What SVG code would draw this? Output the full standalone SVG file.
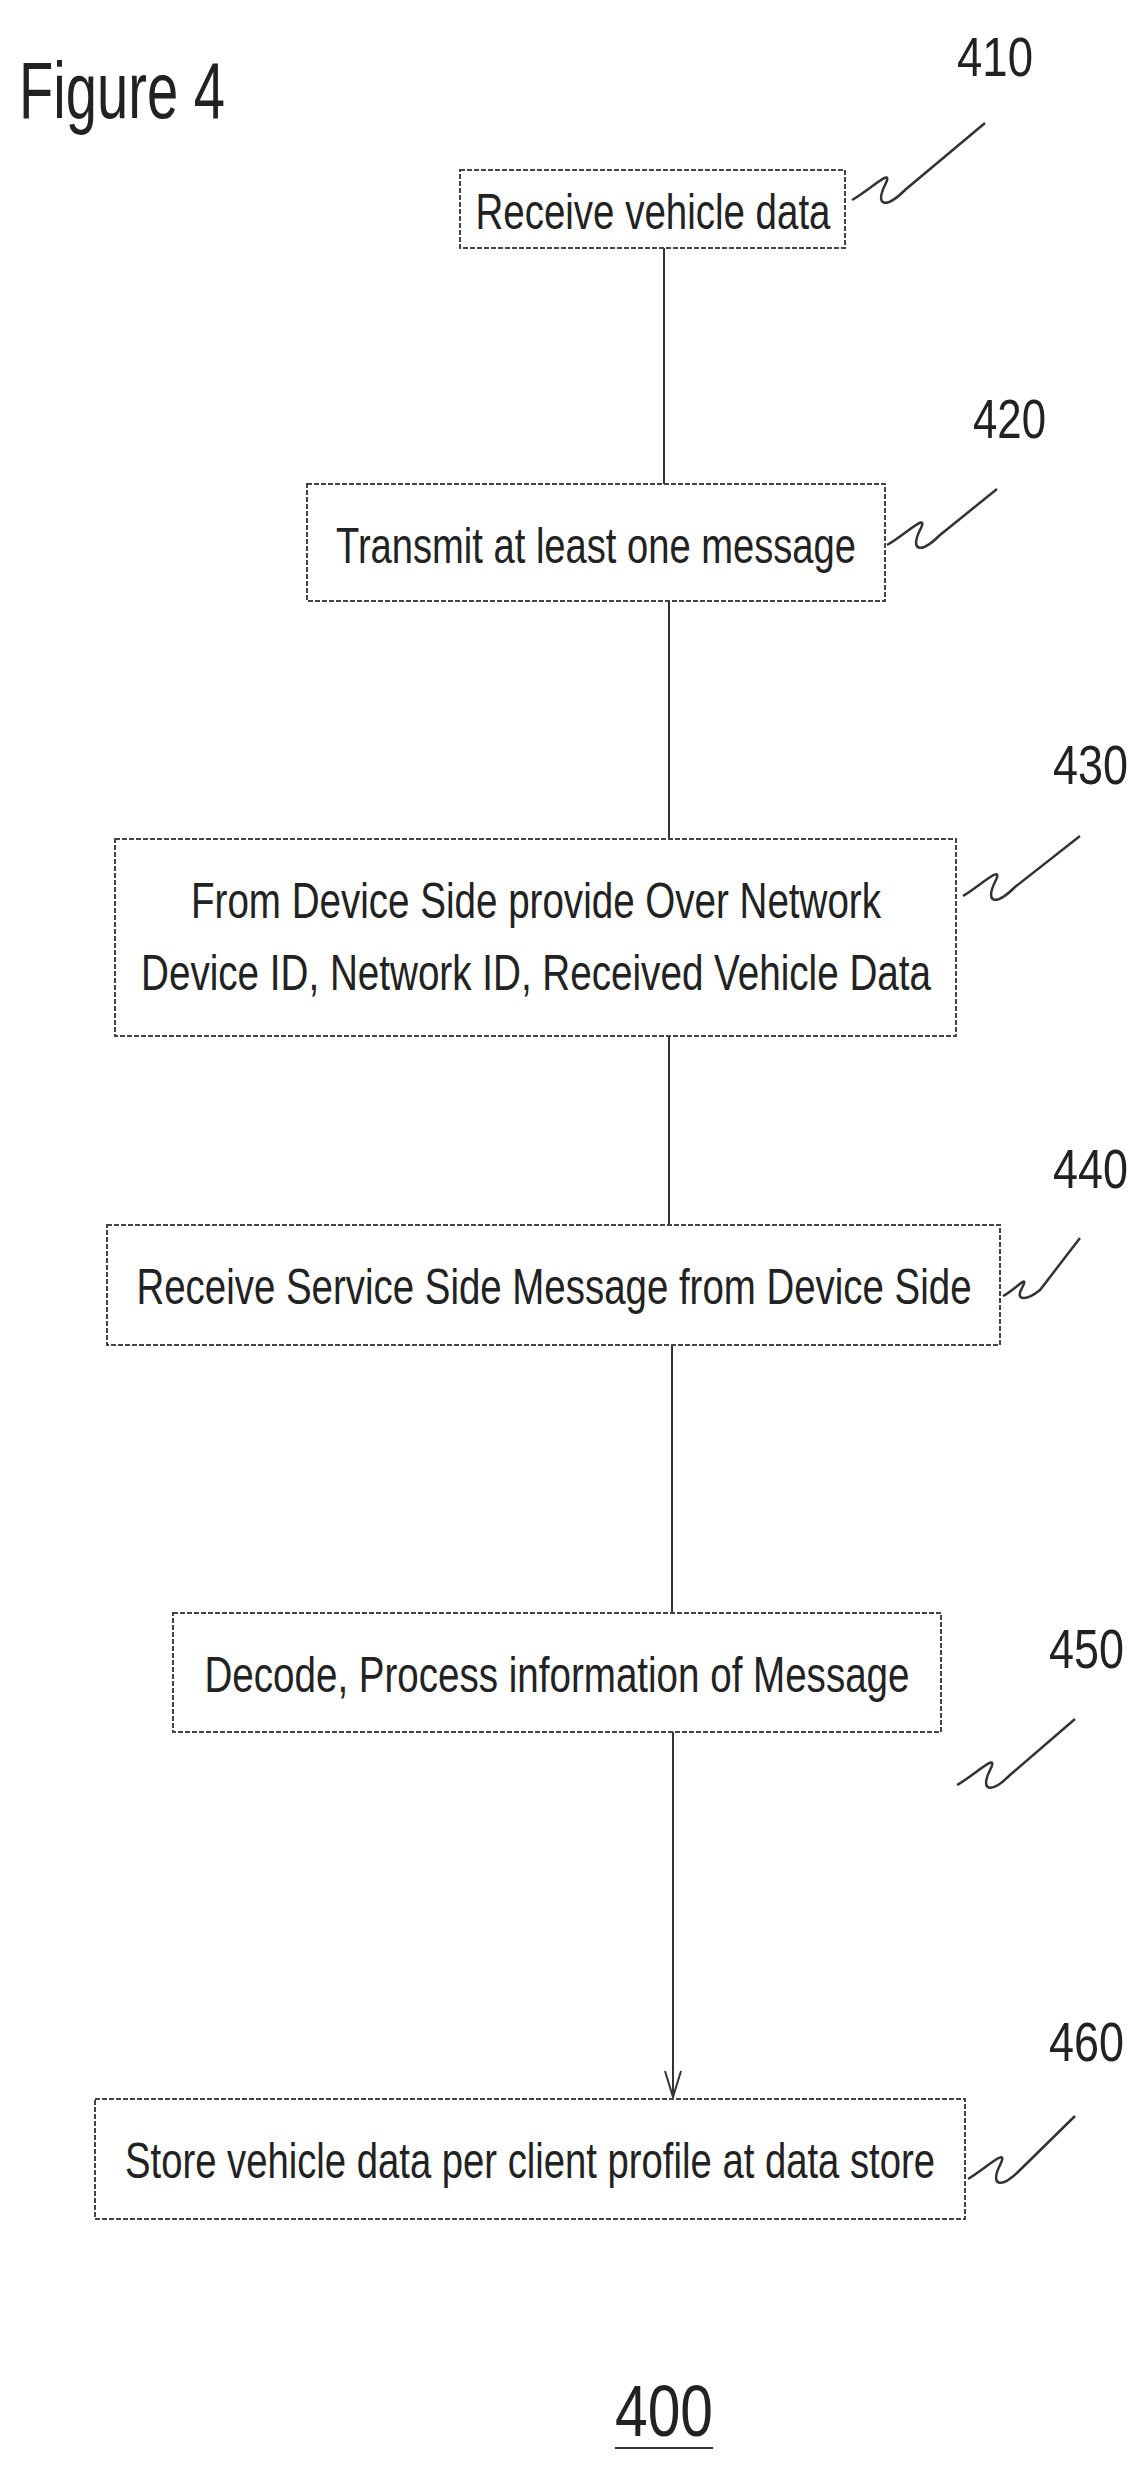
<svg xmlns="http://www.w3.org/2000/svg" width="1148" height="2477" viewBox="0 0 1148 2477">
<style>
.box{fill:#fff;stroke:#444;stroke-width:2;stroke-dasharray:5 2}
.t{font-family:"Liberation Sans",Arial,sans-serif;font-size:50px;fill:#222;text-anchor:middle}
.lbl{font-family:"Liberation Sans",Arial,sans-serif;font-size:56px;fill:#222}
.sq{fill:none;stroke:#333;stroke-width:2.5}
.c{stroke:#333;stroke-width:2;fill:none}
</style>
<defs><marker id="ah" markerWidth="30" markerHeight="20" refX="28" refY="10" orient="auto" markerUnits="userSpaceOnUse"><path d="M2,2 L28,10 L2,18" fill="none" stroke="#333" stroke-width="2"/></marker></defs>
<text x="19" y="118" class="lbl" style="font-size:80px" textLength="206" lengthAdjust="spacingAndGlyphs">Figure 4</text>
<g id="connectors">
<line class="c" x1="664" y1="248" x2="664" y2="484"/>
<line class="c" x1="669" y1="601" x2="669" y2="839"/>
<line class="c" x1="669" y1="1036" x2="669" y2="1225"/>
<line class="c" x1="672" y1="1345" x2="672" y2="1613"/>
<line class="c" x1="673" y1="1732" x2="673" y2="2097" marker-end="url(#ah)"/>
</g>
<g id="n410"><rect class="box" x="460" y="170" width="385" height="78"/><text class="t" x="653" y="229" textLength="355" lengthAdjust="spacingAndGlyphs">Receive vehicle data</text>
<text class="lbl" x="957" y="76" textLength="76" lengthAdjust="spacingAndGlyphs">410</text>
<path class="sq" d="M852,200 C870,190 895,165 885,185 C875,205 885,210 905,190 L985,123"/></g>
<g id="n420"><rect class="box" x="307" y="484" width="578" height="117"/><text class="t" x="596" y="563" textLength="520" lengthAdjust="spacingAndGlyphs">Transmit at least one message</text>
<text class="lbl" x="973" y="438" textLength="73" lengthAdjust="spacingAndGlyphs">420</text>
<path class="sq" d="M887,545 C905,535 930,510 920,530 C910,550 920,555 940,535 L997,489"/></g>
<g id="n430"><rect class="box" x="115" y="839" width="841" height="197"/><text class="t" x="536" y="918" textLength="690" lengthAdjust="spacingAndGlyphs">From Device Side provide Over Network</text><text class="t" x="536" y="990" textLength="790" lengthAdjust="spacingAndGlyphs">Device ID, Network ID, Received Vehicle Data</text>
<text class="lbl" x="1053" y="784" textLength="75" lengthAdjust="spacingAndGlyphs">430</text>
<path class="sq" d="M963,896 C980,886 1005,862 995,882 C985,902 995,907 1015,887 L1080,836"/></g>
<g id="n440"><rect class="box" x="107" y="1225" width="893" height="120"/><text class="t" x="554" y="1304" textLength="835" lengthAdjust="spacingAndGlyphs">Receive Service Side Message from Device Side</text>
<text class="lbl" x="1053" y="1188" textLength="75" lengthAdjust="spacingAndGlyphs">440</text>
<path class="sq" d="M1003,1296 C1015,1290 1030,1272 1022,1288 C1015,1300 1025,1302 1040,1290 L1080,1238"/></g>
<g id="n450"><rect class="box" x="173" y="1613" width="768" height="119"/><text class="t" x="557" y="1692" textLength="705" lengthAdjust="spacingAndGlyphs">Decode, Process information of Message</text>
<text class="lbl" x="1049" y="1668" textLength="75" lengthAdjust="spacingAndGlyphs">450</text>
<path class="sq" d="M957,1785 C975,1775 1000,1750 990,1770 C980,1790 990,1795 1010,1775 L1075,1719"/></g>
<g id="n460"><rect class="box" x="95" y="2099" width="870" height="120"/><text class="t" x="530" y="2178" textLength="810" lengthAdjust="spacingAndGlyphs">Store vehicle data per client profile at data store</text>
<text class="lbl" x="1049" y="2061" textLength="75" lengthAdjust="spacingAndGlyphs">460</text>
<path class="sq" d="M968,2179 C985,2169 1010,2145 1000,2165 C990,2185 1000,2190 1020,2170 L1075,2116"/></g>
<g id="n400"><text class="lbl" x="615" y="2436" style="font-size:72px" textLength="98" lengthAdjust="spacingAndGlyphs">400</text><line class="c" x1="615" y1="2448" x2="713" y2="2448" stroke-width="3"/></g>
</svg>
